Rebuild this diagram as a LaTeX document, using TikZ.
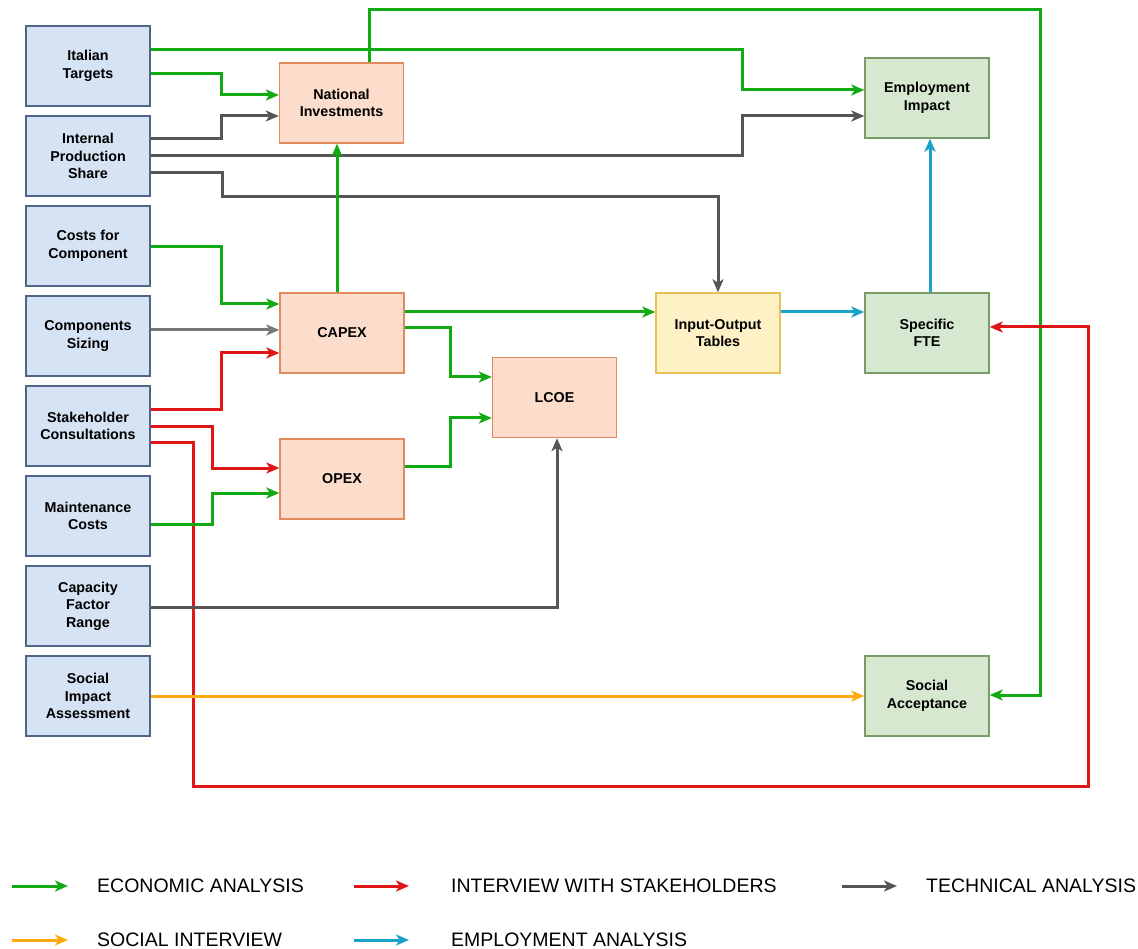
\documentclass[tikz,border=0pt]{standalone}
\usepackage{fontspec}
\setmainfont{Liberation Sans}
\usetikzlibrary{calc,arrows.meta}
\definecolor{bfill}{HTML}{D6E3F4}
\definecolor{bdraw}{HTML}{4F6688}
\definecolor{ofill}{HTML}{FCDCCB}
\definecolor{odraw}{HTML}{E08A5E}
\definecolor{yfill}{HTML}{FFF1C6}
\definecolor{ydraw}{HTML}{E8C055}
\definecolor{gfill}{HTML}{D6E8CF}
\definecolor{gdraw}{HTML}{789C68}
\definecolor{ecoc}{HTML}{12AA12}
\definecolor{intc}{HTML}{E01515}
\definecolor{tecc}{HTML}{555555}
\definecolor{tecl}{HTML}{777777}
\definecolor{socc}{HTML}{FFAA10}
\definecolor{empc}{HTML}{1AA2C8}
\tikzset{
  box/.style={rectangle, minimum width=124pt, minimum height=80pt, line width=1.4pt,
    align=center, inner sep=2pt, font=\bfseries\fontsize{14.3}{17.5}\selectfont},
  inbox/.style={box, fill=bfill, draw=bdraw},
  obox/.style={box, fill=ofill, draw=odraw},
  ybox/.style={box, fill=yfill, draw=ydraw},
  gbox/.style={box, fill=gfill, draw=gdraw},
  conn/.style={line width=3pt, -{Stealth[length=13pt,width=11pt,inset=3.5pt]}},
  eco/.style={conn, draw=ecoc},
  intv/.style={conn, draw=intc},
  tec/.style={conn, draw=tecc},
  tecli/.style={conn, draw=tecl},
  soc/.style={conn, draw=socc},
  emp/.style={conn, draw=empc},
  legtext/.style={anchor=west, inner sep=0pt, font=\fontsize{19.5}{22}\selectfont},
}
\begin{document}
\begin{tikzpicture}[x=1pt,y=-1pt]
\useasboundingbox (0,0) rectangle (1138,949);
% left input boxes
\node[inbox] (it) at (88,66) {Italian\\Targets};
\node[inbox] (ip) at (88,156) {Internal\\Production\\Share};
\node[inbox] (cc) at (88,246) {Costs for\\Component};
\node[inbox] (cs) at (88,336) {Components\\Sizing};
\node[inbox] (sc) at (88,426) {Stakeholder\\Consultations};
\node[inbox] (mc) at (88,516) {Maintenance\\Costs};
\node[inbox] (cf) at (88,606) {Capacity\\Factor\\Range};
\node[inbox] (si) at (88,696) {Social\\Impact\\Assessment};
% middle
\node[obox] (ni) at (341.5,103) {National\\Investments};
\node[obox] (capex) at (342,333) {CAPEX};
\node[obox] (opex) at (342,479) {OPEX};
\node[obox] (lcoe) at (554.5,397.5) {LCOE};
\node[ybox] (io) at (718,333) {Input-Output\\Tables};
% right
\node[gbox] (ei) at (927,98) {Employment\\Impact};
\node[gbox] (fte) at (927,333) {Specific\\FTE};
\node[gbox] (sa) at (927,696) {Social\\Acceptance};

% connectors
\draw[eco] ($(it.east)+(0,-16)$) -| ($(ei.west)+(-122,-8)$) -- ($(ei.west)+(0,-8)$);
\draw[eco] ($(it.east)+(0,8)$) -| ($(ni.west)+(-57,-8)$) -- ($(ni.west)+(0,-8)$);
\draw[tec] ($(ip.east)+(0,-17)$) -| ($(ni.west)+(-57,13)$) -- ($(ni.west)+(0,13)$);
\draw[tec] (ip.east) -| ($(ei.west)+(-122,18)$) -- ($(ei.west)+(0,18)$);
\draw[tec] ($(ip.east)+(0,17)$) -| ($(ip.east)+(72,41)$) -| (io.north);
\draw[eco] ($(ni.north)+(27.5,0)$) |- ($(sa.east)+(51,-686)$) |- ($(sa.east)+(0,-1)$);
\draw[eco] ($(capex.north)+(-5,0)$) -- ($(ni.south)+(-4.5,0)$);
\draw[eco] ($(cc.east)+(0,1)$) -| ($(capex.west)+(-58,-29)$) -- ($(capex.west)+(0,-29)$);
\draw[tecli] ($(cs.east)+(0,-6)$) -- ($(capex.west)+(0,-3)$);
\draw[intv] ($(sc.east)+(0,-16)$) -| ($(capex.west)+(-58,20)$) -- ($(capex.west)+(0,20)$);
\draw[intv] ($(sc.east)+(0,1)$) -| ($(opex.west)+(-67,-11)$) -- ($(opex.west)+(0,-11)$);
\draw[intv] ($(sc.east)+(0,16)$) -| ($(sc.east)+(43,360)$) -| ($(fte.east)+(99,-6)$) -- ($(fte.east)+(0,-6)$);
\draw[eco] ($(mc.east)+(0,8)$) -| ($(opex.west)+(-67,14)$) -- ($(opex.west)+(0,14)$);
\draw[eco] ($(capex.east)+(0,-21)$) -- ($(io.west)+(0,-21)$);
\draw[eco] ($(capex.east)+(0,-5)$) -| ($(lcoe.west)+(-41,-20.5)$) -- ($(lcoe.west)+(0,-20.5)$);
\draw[eco] ($(opex.east)+(0,-13)$) -| ($(lcoe.west)+(-41,20.5)$) -- ($(lcoe.west)+(0,20.5)$);
\draw[tec] ($(cf.east)+(0,1)$) -| ($(lcoe.south)+(2.5,0)$);
\draw[soc] (si.east) -- (sa.west);
\draw[emp] ($(io.east)+(0,-21)$) -- ($(fte.west)+(0,-21)$);
\draw[emp] ($(fte.north)+(3,0)$) -- ($(ei.south)+(3,0)$);

% legend
\coordinate (la1) at (12,886); \coordinate (lb1) at (68,886);
\coordinate (la2) at (354,886); \coordinate (lb2) at (409,886);
\coordinate (la3) at (842,886); \coordinate (lb3) at (897,886);
\coordinate (la4) at (12,940); \coordinate (lb4) at (68,940);
\coordinate (la5) at (354,940); \coordinate (lb5) at (409,940);
\draw[eco] (la1) -- (lb1);
\draw[intv] (la2) -- (lb2);
\draw[tec] (la3) -- (lb3);
\draw[soc] (la4) -- (lb4);
\draw[emp] (la5) -- (lb5);
\node[legtext] (t1) at (97,886) {ECONOMIC ANALYSIS};
\node[legtext] (t2) at (451,886) {INTERVIEW WITH STAKEHOLDERS};
\node[legtext] (t3) at (926,886) {TECHNICAL ANALYSIS};
\node[legtext] (t4) at (97,940) {SOCIAL INTERVIEW};
\node[legtext] (t5) at (451,940) {EMPLOYMENT ANALYSIS};
\end{tikzpicture}
\end{document}
